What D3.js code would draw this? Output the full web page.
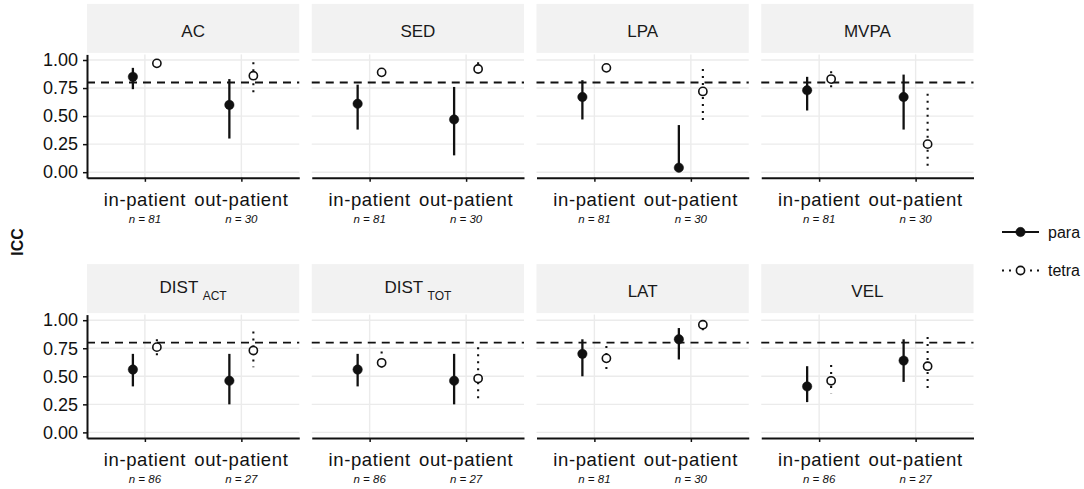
<!DOCTYPE html>
<html>
<head>
<meta charset="utf-8">
<script src="https://cdn.jsdelivr.net/npm/d3@7"></script>
<style>
  html, body { margin: 0; padding: 0; background: #fff; }
  svg { display: block; font-family: "Liberation Sans", Arial, Helvetica, sans-serif; }
</style>
</head>
<body>
<svg id="chart" width="1084" height="489"></svg>
<script>
// ---- data ----
const panels    = ["AC", "SED", "LPA", "MVPA", "DIST_ACT", "DIST_TOT", "LAT", "VEL"];
const stripMain = ["AC", "SED", "LPA", "MVPA", "DIST", "DIST", "LAT", "VEL"];
const stripSub  = ["", "", "", "", "ACT", "TOT", "", ""];
const groups    = ["in-patient", "out-patient"];
const nIn       = [81, 81, 81, 81, 86, 86, 81, 86];
const nOut      = [30, 30, 30, 30, 27, 27, 30, 27];
const series    = ["para", "tetra"];
const yTicks    = [0, 0.25, 0.5, 0.75, 1];
const threshold = 0.8;

// [in-patient, out-patient] per panel
const paraEst  = [[0.85,0.60],[0.61,0.47],[0.67,0.04],[0.73,0.67],[0.56,0.46],[0.56,0.46],[0.70,0.83],[0.41,0.64]];
const paraLo   = [[0.74,0.30],[0.38,0.15],[0.47,0.02],[0.55,0.38],[0.41,0.25],[0.41,0.25],[0.50,0.65],[0.27,0.45]];
const paraHi   = [[0.93,0.83],[0.78,0.76],[0.82,0.42],[0.85,0.87],[0.70,0.70],[0.70,0.70],[0.83,0.93],[0.59,0.83]];
const tetraEst = [[0.97,0.86],[0.89,0.92],[0.93,0.72],[0.83,0.25],[0.76,0.73],[0.62,0.48],[0.66,0.96],[0.46,0.59]];
const tetraLo  = [[0.95,0.67],[0.86,0.88],[0.90,0.44],[0.75,0.05],[0.68,0.58],[0.56,0.28],[0.53,0.91],[0.35,0.37]];
const tetraHi  = [[0.98,0.98],[0.91,0.98],[0.95,0.92],[0.90,0.70],[0.83,0.90],[0.72,0.76],[0.77,0.99],[0.60,0.85]];

// ---- layout ----
const svg = d3.select("#chart");
const plotLeft = 87, plotRight = 973.5, colGap = 12.5, nCols = 4;
const panelW = (plotRight - plotLeft - colGap * (nCols - 1)) / nCols;
const rowPanelTop = [54.4, 314.6];
const panelH = 123.4;
const stripH = 49;
const ink = "#111";

const x = d3.scalePoint().domain(groups).range([0, panelW]).padding(0.6);
const dodge = d3.scalePoint().domain(series).range([-12, 12]);
const y = d3.scaleLinear().domain([-0.05, 1.05]).range([panelH, 0]);

panels.forEach((p, i) => {
  const col = i % nCols, row = Math.floor(i / nCols);
  const px = plotLeft + col * (panelW + colGap);
  const py = rowPanelTop[row];
  const g = svg.append("g").attr("transform", `translate(${px},${py})`);

  // strip
  g.append("rect").attr("x", 0).attr("y", -stripH - 1.5).attr("width", panelW).attr("height", stripH)
    .attr("fill", "#f2f2f2");
  const st = g.append("text").attr("x", panelW / 2)
    .attr("y", stripSub[i] ? -stripH / 2 + 3 : -stripH / 2 + 7)
    .attr("text-anchor", "middle").attr("font-size", 17).attr("fill", "#1a1a1a");
  st.append("tspan").text(stripMain[i]);
  if (stripSub[i]) {
    st.append("tspan").text(" ");
    st.append("tspan").attr("font-size", 12).attr("dy", 6.5).text(stripSub[i]);
  }

  // gridlines
  g.selectAll(".hg").data(yTicks).join("line")
    .attr("x1", 0).attr("x2", panelW).attr("y1", d => y(d)).attr("y2", d => y(d))
    .attr("stroke", "#ebebeb").attr("stroke-width", 1.4);
  g.selectAll(".vg").data(groups).join("line")
    .attr("x1", d => x(d)).attr("x2", d => x(d)).attr("y1", 0).attr("y2", panelH)
    .attr("stroke", "#ebebeb").attr("stroke-width", 1.4);

  // threshold
  g.append("line").attr("x1", 0).attr("x2", panelW).attr("y1", y(threshold)).attr("y2", y(threshold))
    .attr("stroke", ink).attr("stroke-width", 1.9).attr("stroke-dasharray", "8,6");

  // x axis
  const xa = g.append("g").attr("transform", `translate(0,${panelH})`)
    .call(d3.axisBottom(x).tickSize(4).tickSizeOuter(0).tickFormat(""));
  xa.select(".domain").attr("stroke", ink).attr("stroke-width", 2);
  xa.selectAll(".tick line").attr("stroke", ink).attr("stroke-width", 1.5);

  groups.forEach((gr, k) => {
    g.append("text").attr("x", x(gr)).attr("y", panelH + 28.5).attr("text-anchor", "middle")
      .attr("font-size", 18.5).attr("letter-spacing", 0.6).attr("fill", ink).text(gr);
    g.append("text").attr("x", x(gr)).attr("y", panelH + 45.5).attr("text-anchor", "middle")
      .attr("font-size", 11.5).attr("font-style", "italic").attr("fill", ink)
      .text("n = " + (k === 0 ? nIn[i] : nOut[i]));
  });

  // y axis on left column
  if (col === 0) {
    const ya = g.append("g").call(d3.axisLeft(y).tickValues(yTicks).tickSize(4).tickSizeOuter(0)
      .tickFormat(d3.format(".2f")));
    ya.select(".domain").attr("stroke", ink).attr("stroke-width", 2);
    ya.selectAll(".tick line").attr("stroke", ink).attr("stroke-width", 1.5);
    ya.selectAll(".tick text").attr("font-size", 18).attr("fill", ink)
      .attr("font-family", "'Liberation Sans', Arial, sans-serif").attr("x", -9);
  }

  // point ranges
  const pts = [];
  groups.forEach((gr, k) => {
    pts.push({ s: "para", g: gr, est: paraEst[i][k], lo: paraLo[i][k], hi: paraHi[i][k] });
    pts.push({ s: "tetra", g: gr, est: tetraEst[i][k], lo: tetraLo[i][k], hi: tetraHi[i][k] });
  });
  pts.forEach(d => {
    const cx = x(d.g) + dodge(d.s);
    g.append("line").attr("x1", cx).attr("x2", cx).attr("y1", y(d.hi)).attr("y2", y(d.lo))
      .attr("stroke", ink).attr("stroke-width", d.s === "para" ? 2.3 : 2.1)
      .attr("stroke-dasharray", d.s === "para" ? null : "2,5");
    g.append("circle").attr("cx", cx).attr("cy", y(d.est))
      .attr("r", d.s === "para" ? 4.7 : 4.1)
      .attr("fill", d.s === "para" ? ink : "#fff")
      .attr("stroke", ink).attr("stroke-width", d.s === "para" ? 0.5 : 1.6);
  });
});

// y axis title
svg.append("text").attr("transform", "translate(23,242) rotate(-90)").attr("text-anchor", "middle")
  .attr("font-size", 16).attr("font-weight", "bold").attr("fill", ink).text("ICC");

// legend
const legY = [232, 270.5];
series.forEach((s, k) => {
  const lg = svg.append("g").attr("transform", `translate(1002,${legY[k]})`);
  lg.append("line").attr("x1", 0).attr("x2", 37).attr("y1", 0).attr("y2", 0)
    .attr("stroke", ink).attr("stroke-width", 2.1)
    .attr("stroke-dasharray", s === "para" ? null : "2,5");
  lg.append("circle").attr("cx", 18.5).attr("cy", 0).attr("r", s === "para" ? 4.7 : 4.1)
    .attr("fill", s === "para" ? ink : "#fff").attr("stroke", ink)
    .attr("stroke-width", s === "para" ? 0.5 : 1.6);
  lg.append("text").attr("x", 46).attr("y", 5.5).attr("font-size", 16).attr("fill", ink).text(s);
});
</script>
</body>
</html>
